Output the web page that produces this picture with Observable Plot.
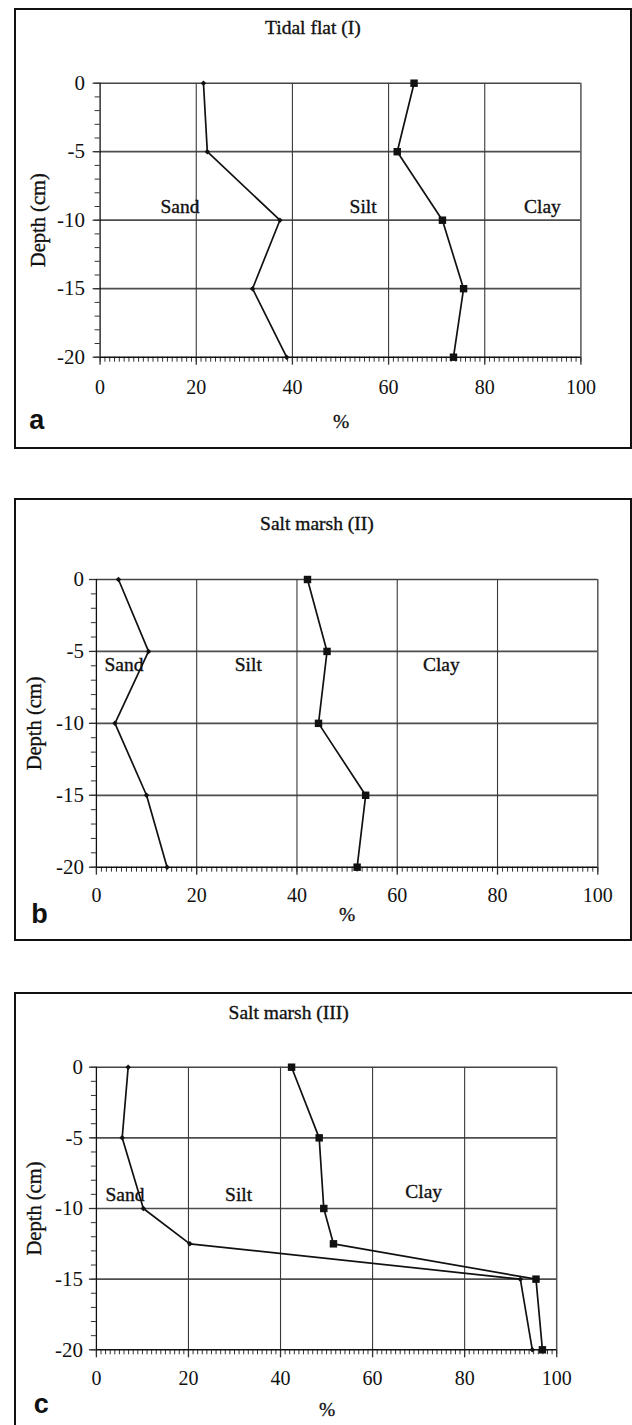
<!DOCTYPE html>
<html><head><meta charset="utf-8">
<script src="https://cdn.jsdelivr.net/npm/d3@7"></script>
<script src="https://cdn.jsdelivr.net/npm/@observablehq/plot@0.6"></script>
<style>
html,body{margin:0;padding:0;background:#fff;width:632px;height:1425px;overflow:hidden;}
#page{position:relative;width:632px;height:1425px;overflow:hidden;}
.box{position:absolute;border:2px solid #111;box-sizing:border-box;}
#page svg{position:absolute;left:0;}
#page svg text{font-family:'Liberation Serif','Times New Roman',serif;}
#page svg text.letter, #page svg .letter text{font-family:'Liberation Sans',Arial,sans-serif;}
</style></head><body><div id="page"></div>
<script>
// ---- data ----
const depthAB = [0, -5, -10, -15, -20];
const depthC = [0, -5, -10, -12.5, -15, -20];
const sandA = [21.5, 22.3, 37.4, 31.7, 38.8];
const siltA = [65.3, 61.8, 71.2, 75.6, 73.5];
const sandB = [4.4, 10.4, 3.7, 10.0, 14.1];
const siltB = [42.1, 46.0, 44.3, 53.7, 52.0];
const sandC = [6.9, 5.6, 10.2, 20.3, 92.1, 94.7];
const siltC = [42.4, 48.4, 49.4, 51.5, 95.5, 96.9];
const titles = ["Tidal flat (I)", "Salt marsh (II)", "Salt marsh (III)"];
const panelLetters = ["a", "b", "c"];
const classNames = ["Sand", "Silt", "Clay"];
const classXA = [16.6, 54.7, 92.0], classYA = [-9, -9, -9];
const classXB = [5.5, 30.3, 68.8], classYB = [-5.9, -5.9, -5.9];
const classXC = [6.2, 30.9, 71.1], classYC = [-9, -9, -8.8];
const xTicks = [0, 20, 40, 60, 80, 100];
const yTicks = [0, -5, -10, -15, -20];
const xGrid = [20, 40, 60, 80];
const yGrid = [-5, -10, -15];
const xLabel = "%";
const yLabel = "Depth (cm)";

// ---- layout ----
const panels = [
  {depth: depthAB, sand: sandA, silt: siltA, cx: classXA, cy: classYA,
   box: {left: 14, top: 8, width: 618, height: 441},
   svgTop: 0, height: 449, mt: 82.7, mb: 92.3, ml: 99.6, mr: 51.6,
   titleDx: -27.6, titleDy: -55.2, tickPad: 22.6, yPad: 15, yLabDx: -61.3,
   pctDx: 0.6, pctDy: 65, letDx: -63.3, letDy: 62.7},
  {depth: depthAB, sand: sandB, silt: siltB, cx: classXB, cy: classYB,
   box: {left: 14, top: 498, width: 618, height: 443},
   svgTop: 498, height: 443, mt: 81, mb: 74.3, ml: 95.9, mr: 34.7,
   titleDx: -30.2, titleDy: -55.7, tickPad: 20.9, yPad: 12.5, yLabDx: -61.6,
   pctDx: 0, pctDy: 47.3, letDx: -56.9, letDy: 47},
  {depth: depthC, sand: sandC, silt: siltC, cx: classXC, cy: classYC,
   box: {left: 14, top: 992, width: 625, height: 450},
   svgTop: 992, height: 438, mt: 74.7, mb: 80.7, ml: 95.9, mr: 75.8,
   titleDx: -37.9, titleDy: -54, tickPad: 21.3, yPad: 13.3, yLabDx: -61.6,
   pctDx: 0.5, pctDy: 60, letDx: -55.2, letDy: 54.1}
];

const serif = "'Liberation Serif', 'Times New Roman', serif";
const sans = "'Liberation Sans', Arial, sans-serif";
const page = document.getElementById("page");
const blank = () => "";
const plain = d => String(d);
const ink = {fill: "#111", stroke: "#111", strokeWidth: 0.35};

panels.forEach((p, k) => {
  const box = document.createElement("div");
  box.className = "box";
  Object.assign(box.style, {left: p.box.left + "px", top: p.box.top + "px",
    width: p.box.width + "px", height: p.box.height + "px"});
  page.appendChild(box);

  const rows = p.depth.map((d, i) => ({depth: d, sand: p.sand[i], silt: p.silt[i]}));
  const labels = classNames.map((n, i) => ({name: n, x: p.cx[i], y: p.cy[i]}));

  const svg = Plot.plot({
    width: 632, height: p.height,
    marginTop: p.mt, marginBottom: p.mb, marginLeft: p.ml, marginRight: p.mr,
    x: {domain: [0, 100], axis: null},
    y: {domain: [-20, 0], axis: null},
    style: {fontFamily: serif, fontSize: "20px", color: "#111", background: "transparent", overflow: "visible"},
    marks: [
      Plot.ruleX(xGrid, {stroke: "#222", strokeOpacity: 0.9, strokeWidth: 1.1}),
      Plot.ruleY(yGrid, {stroke: "#3a3a3a", strokeOpacity: 0.9, strokeWidth: 1.7}),
      Plot.ruleY([0], {stroke: "#444", strokeWidth: 1.6}),
      Plot.ruleX([100], {stroke: "#555", strokeWidth: 1.5}),
      Plot.axisY(d3.range(-20, 1, 1), {anchor: "left", tickSize: 5, tickFormat: blank, label: null, stroke: "#333", strokeWidth: 1}),
      Plot.axisY(yTicks, {anchor: "left", tickSize: 7, tickFormat: blank, label: null, stroke: "#333", strokeWidth: 1.3}),
      Plot.axisX(d3.range(0, 101, 1), {anchor: "bottom", tickSize: 5, tickFormat: blank, label: null, stroke: "#333", strokeWidth: 1}),
      Plot.axisX(xTicks, {anchor: "bottom", tickSize: 8, tickFormat: blank, label: null, stroke: "#333", strokeWidth: 1.3}),
      Plot.ruleX([0], {stroke: "#111", strokeWidth: 1.3}),
      Plot.ruleY([-20], {stroke: "#111", strokeWidth: 1.6}),
      Plot.axisY(yTicks, {anchor: "left", tickSize: 0, tickPadding: p.yPad, tickFormat: plain, label: null, fontSize: 21, fontFamily: serif, fontVariant: "normal", ...ink}),
      Plot.axisX(xTicks, {anchor: "bottom", tickSize: 0, tickPadding: p.tickPad, tickFormat: plain, label: null, fontSize: 20, fontFamily: serif, fontVariant: "normal", ...ink}),
      Plot.line(rows, {x: "sand", y: "depth", stroke: "#111", strokeWidth: 1.7}),
      Plot.line(rows, {x: "silt", y: "depth", stroke: "#111", strokeWidth: 1.7}),
      Plot.dot(rows, {x: "sand", y: "depth", symbol: "diamond2", r: 2.5, fill: "#111"}),
      Plot.dot(rows, {x: "silt", y: "depth", symbol: "square", r: 4.2, fill: "#111"}),
      Plot.text(labels, {x: "x", y: "y", text: "name", fontSize: 19.5, fontFamily: serif, lineAnchor: "middle", ...ink}),
      Plot.text([titles[k]], {text: d => d, frameAnchor: "top", dx: p.titleDx, dy: p.titleDy, fontSize: 19.5, fontFamily: serif, lineAnchor: "middle", ...ink}),
      Plot.text([yLabel], {text: d => d, frameAnchor: "left", dx: p.yLabDx, rotate: -90, fontSize: 20.5, fontFamily: serif, lineAnchor: "middle", textAnchor: "middle", ...ink}),
      Plot.text([xLabel], {text: d => d, frameAnchor: "bottom", dx: p.pctDx, dy: p.pctDy, fontSize: 19.5, fontFamily: serif, lineAnchor: "middle", ...ink}),
      Plot.text([panelLetters[k]], {text: d => d, frameAnchor: "bottom-left", dx: p.letDx, dy: p.letDy, fontSize: 27, fontWeight: "bold", fontFamily: sans, lineAnchor: "middle", textAnchor: "middle", fill: "#111", className: "letter"})
    ]
  });
  svg.style.top = p.svgTop + "px";
  page.appendChild(svg);
});
</script>
</body></html>
